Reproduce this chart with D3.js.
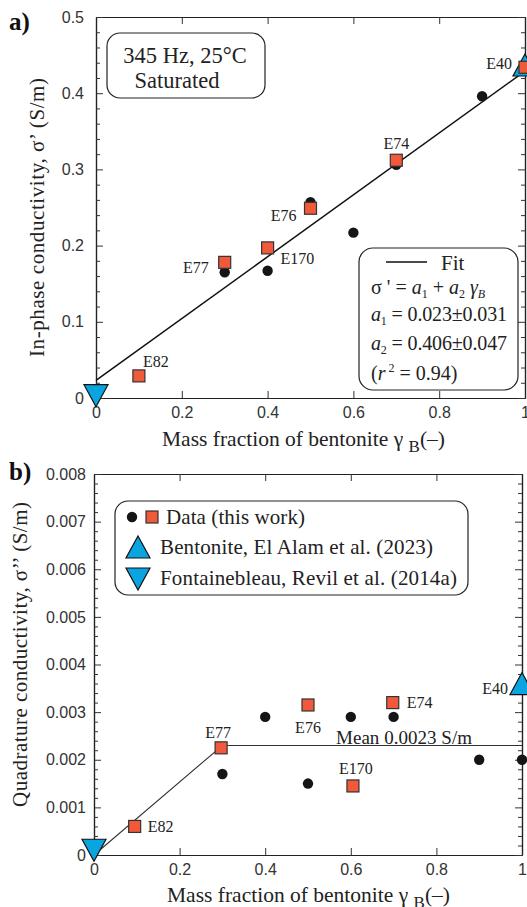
<!DOCTYPE html>
<html>
<head>
<meta charset="utf-8">
<script src="https://cdn.jsdelivr.net/npm/d3@7"></script>
<style>
  html, body { margin: 0; padding: 0; background: #fff; }
  svg { display: block; }
</style>
</head>
<body>
<div id="chart"></div>
<script>
// ---- data, panel a (in-phase) ----
const xTicks = [0, 0.2, 0.4, 0.6, 0.8, 1];
const xTickLabels = ["0", "0.2", "0.4", "0.6", "0.8", "1"];

const yTicksA = [0, 0.1, 0.2, 0.3, 0.4, 0.5];
const yTickLabelsA = ["0", "0.1", "0.2", "0.3", "0.4", "0.5"];

const circX_A = [0.3, 0.4, 0.5, 0.6, 0.7, 0.9];
const circY_A = [0.165, 0.167, 0.257, 0.217, 0.306, 0.396];

const sqNames_A = ["E82", "E77", "E170", "E76", "E74", "E40"];
const sqX_A = [0.1, 0.3, 0.4, 0.5, 0.7, 1.0];
const sqY_A = [0.029, 0.178, 0.197, 0.249, 0.312, 0.434];

const bentonite_A = [1.0, 0.437];     // El Alam et al. (2023)
const fontaine_A = [0, 0.003];        // Revil et al. (2014a)
const fitA1 = 0.023, fitA2 = 0.406;

// ---- data, panel b (quadrature) ----
const yTicksB = [0, 0.001, 0.002, 0.003, 0.004, 0.005, 0.006, 0.007, 0.008];
const yTickLabelsB = ["0", "0.001", "0.002", "0.003", "0.004", "0.005", "0.006", "0.007", "0.008"];

const circX_B = [0.3, 0.4, 0.5, 0.6, 0.7, 0.9, 1.0];
const circY_B = [0.0017, 0.0029, 0.0015, 0.0029, 0.0029, 0.002, 0.002];

const sqNames_B = ["E82", "E77", "E76", "E170", "E74"];
const sqX_B = [0.095, 0.297, 0.5, 0.605, 0.698];
const sqY_B = [0.0006, 0.00225, 0.00315, 0.00145, 0.0032];

const bentonite_B = [1.0, 0.0036];
const fontaine_B = [0, 0.0001];
const meanQ = 0.0023;
const kneeX = 0.3;

// ---- label placement (pixel offsets from the square) ----
const labelPosA = {
    E82:  {dx: 17,  dy: -15, anchor: "middle"},
    E77:  {dx: -16, dy: 5,   anchor: "end"},
    E170: {dx: 13,  dy: 11,  anchor: "start"},
    E76:  {dx: -14, dy: 7,   anchor: "end"},
    E74:  {dx: 0,   dy: -17, anchor: "middle"},
    E40:  {dx: -13, dy: -4,  anchor: "end"}
};
const labelPosB = {
    E82:  {dx: 13, dy: 0,   anchor: "start"},
    E77:  {dx: -3, dy: -15, anchor: "middle"},
    E76:  {dx: 0,  dy: 22,  anchor: "middle"},
    E170: {dx: 3,  dy: -18, anchor: "middle"},
    E74:  {dx: 14, dy: 0,   anchor: "start"}
};

const SERIF = "'Liberation Serif', 'Times New Roman', serif";
const SANS = "'Liberation Sans', Arial, Helvetica, sans-serif";
const SQ_FILL = "#F05A3B";
const TRI_FILL = "#0AA5E0";
const INK = "#222";

const W = 527, H = 907;
const svg = d3.select("#chart").append("svg").attr("width", W).attr("height", H);

function minorTicks(major) {
    let out = [];
    for (let i = 0; i < major.length - 1; i++) {
        let step = (major[i + 1] - major[i]) / 5;
        for (let k = 1; k < 5; k++) out.push(major[i] + k * step);
    }
    return out;
}

function frame(x, y, yTicks, yLabels, yPad) {
    let g = svg.append("g");
    let y0 = y.range()[0], y1 = y.range()[1];
    let x0 = x.range()[0], x1 = x.range()[1];
    let yMinor = minorTicks(yTicks);

    g.append("g").attr("transform", `translate(0,${y0})`)
        .call(d3.axisBottom(x).tickValues(xTicks).tickSize(-7).tickSizeOuter(0)
            .tickPadding(9).tickFormat((d, i) => xTickLabels[i]));
    g.append("g").attr("transform", `translate(0,${y1})`)
        .call(d3.axisTop(x).tickValues(xTicks).tickSize(-7).tickSizeOuter(0).tickFormat(""));
    g.append("g").attr("transform", `translate(${x0},0)`)
        .call(d3.axisLeft(y).tickValues(yTicks).tickSize(-7).tickSizeOuter(0)
            .tickPadding(yPad).tickFormat((d, i) => yLabels[i]));
    g.append("g").attr("transform", `translate(${x0},0)`)
        .call(d3.axisLeft(y).tickValues(yMinor).tickSize(-4).tickSizeOuter(0).tickFormat(""));
    g.append("g").attr("transform", `translate(${x1},0)`)
        .call(d3.axisRight(y).tickValues(yTicks).tickSize(-7).tickSizeOuter(0).tickFormat(""));
    g.append("g").attr("transform", `translate(${x1},0)`)
        .call(d3.axisRight(y).tickValues(yMinor).tickSize(-4).tickSizeOuter(0).tickFormat(""));

    g.selectAll(".domain").attr("stroke", "#222").attr("stroke-width", 1.2);
    g.selectAll(".tick line").attr("stroke", "#333").attr("stroke-width", 1);
    g.selectAll(".tick text").attr("font-family", SANS).attr("font-size", 16).attr("fill", "#333");
    return g;
}

function triangle(g, cx, cy, up) {
    let w = 24, h = 22;
    let pts = up
        ? [[cx, cy - h / 2], [cx + w / 2, cy + h / 2], [cx - w / 2, cy + h / 2]]
        : [[cx - w / 2, cy - h / 2], [cx + w / 2, cy - h / 2], [cx, cy + h / 2]];
    g.append("path").attr("d", d3.line()(pts) + "Z")
        .attr("fill", TRI_FILL).attr("stroke", "#111").attr("stroke-width", 1.2);
}

function circles(g, x, y, xs, ys) {
    g.selectAll(null).data(xs).enter().append("circle")
        .attr("cx", d => x(d)).attr("cy", (d, i) => y(ys[i])).attr("r", 5.2)
        .attr("fill", "#151515");
}

function squares(g, x, y, xs, ys, names, pos) {
    let s = 12;
    let sq = g.selectAll(null).data(xs).enter();
    sq.append("rect")
        .attr("x", d => x(d) - s / 2).attr("y", (d, i) => y(ys[i]) - s / 2)
        .attr("width", s).attr("height", s)
        .attr("fill", SQ_FILL).attr("stroke", "#333").attr("stroke-width", 1.2);
    sq.append("text")
        .attr("x", (d, i) => x(d) + pos[names[i]].dx)
        .attr("y", (d, i) => y(ys[i]) + pos[names[i]].dy)
        .attr("dy", "0.35em")
        .attr("text-anchor", (d, i) => pos[names[i]].anchor)
        .attr("font-family", SERIF).attr("font-size", 16).attr("fill", INK)
        .text((d, i) => names[i]);
}

function xTitle(cx, baseline) {
    let t = svg.append("text").attr("x", cx).attr("y", baseline)
        .attr("text-anchor", "middle").attr("font-family", SERIF)
        .attr("font-size", 21.5).attr("fill", INK)
        .attr("textLength", 283);
    t.append("tspan").text("Mass fraction of bentonite \u03B3 ");
    t.append("tspan").attr("font-size", 17).attr("dy", 6).text("B");
    t.append("tspan").attr("dy", -6).text("(\u2013)");
}

function yTitle(cx, cy, txt, len) {
    svg.append("text").attr("transform", `translate(${cx},${cy}) rotate(-90)`)
        .attr("text-anchor", "middle").attr("dy", "0.35em")
        .attr("font-family", SERIF).attr("font-size", 21).attr("fill", INK)
        .attr("textLength", len)
        .text(txt);
}

// ================= panel a =================
const xA = d3.scaleLinear().domain([0, 1]).range([96, 525]);
const yA = d3.scaleLinear().domain([0, 0.5]).range([398, 17]);
frame(xA, yA, yTicksA, yTickLabelsA, 12);

const gA = svg.append("g");
gA.append("line")
    .attr("x1", xA(0)).attr("y1", yA(fitA1))
    .attr("x2", xA(1)).attr("y2", yA(fitA1 + fitA2))
    .attr("stroke", "#111").attr("stroke-width", 1.5);
triangle(gA, xA(fontaine_A[0]), yA(fontaine_A[1]), false);
triangle(gA, xA(bentonite_A[0]), yA(bentonite_A[1]), true);
circles(gA, xA, yA, circX_A, circY_A);
squares(gA, xA, yA, sqX_A, sqY_A, sqNames_A, labelPosA);

// condition box
gA.append("rect").attr("x", 107).attr("y", 33).attr("width", 158).attr("height", 65)
    .attr("rx", 13).attr("fill", "none").attr("stroke", "#222").attr("stroke-width", 1.2);
gA.append("text").attr("x", 185).attr("y", 63).attr("text-anchor", "middle")
    .attr("font-family", SERIF).attr("font-size", 22.5).attr("fill", INK).text("345 Hz, 25\u00B0C");
gA.append("text").attr("x", 177).attr("y", 88).attr("text-anchor", "middle")
    .attr("font-family", SERIF).attr("font-size", 22.5).attr("fill", INK).text("Saturated");

// fit box
gA.append("rect").attr("x", 359).attr("y", 248).attr("width", 159).attr("height", 142)
    .attr("rx", 14).attr("fill", "#fff").attr("stroke", "#222").attr("stroke-width", 1.2);
gA.append("line").attr("x1", 386).attr("x2", 427).attr("y1", 262).attr("y2", 262)
    .attr("stroke", "#111").attr("stroke-width", 1.5);
gA.append("text").attr("x", 441).attr("y", 270)
    .attr("font-family", SERIF).attr("font-size", 21).attr("fill", INK).text("Fit");

function formulaLine(yb, parts, len) {
    let t = gA.append("text").attr("x", 371).attr("y", yb)
        .attr("font-family", SERIF).attr("font-size", 20).attr("fill", INK);
    if (len) t.attr("textLength", len);
    parts.forEach(p => {
        let ts = t.append("tspan").text(p.t);
        if (p.it) ts.attr("font-style", "italic");
        if (p.sub) ts.attr("font-size", 12).attr("dy", 4);
        if (p.sup) ts.attr("font-size", 12).attr("dy", -8);
        if (p.back) ts.attr("dy", p.back);
    });
}
formulaLine(294, [
    {t: "\u03C3 '"}, {t: " = "}, {t: "a", it: true}, {t: "1", sub: true},
    {t: " + ", back: -4}, {t: "a", it: true}, {t: "2", sub: true},
    {t: " \u03B3", it: true, back: -4}, {t: "B", it: true, sub: true}
]);
formulaLine(321, [{t: "a", it: true}, {t: "1", sub: true}, {t: " = 0.023\u00B10.031", back: -4}], 136);
formulaLine(350, [{t: "a", it: true}, {t: "2", sub: true}, {t: " = 0.406\u00B10.047", back: -4}], 136);
formulaLine(380, [{t: "("}, {t: "r", it: true}, {t: " 2", sup: true}, {t: " = 0.94)", back: 8}]);

xTitle(303.5, 446);
yTitle(37, 217.5, "In-phase conductivity,  \u03C3\u2019  (S/m)", 279);
svg.append("text").attr("x", 9).attr("y", 30).attr("font-family", SERIF)
    .attr("font-weight", "bold").attr("font-size", 25).attr("fill", "#111").text("a)");

// ================= panel b =================
const xB = d3.scaleLinear().domain([0, 1]).range([94, 522]);
const yB = d3.scaleLinear().domain([0, 0.008]).range([855, 474]);
frame(xB, yB, yTicksB, yTickLabelsB, 8);

const gB = svg.append("g");
gB.append("path")
    .attr("d", d3.line()([[xB(0), yB(0)], [xB(kneeX), yB(meanQ)], [xB(1), yB(meanQ)]]))
    .attr("fill", "none").attr("stroke", "#333").attr("stroke-width", 1.1);
gB.append("text").attr("x", 336).attr("y", 737).attr("dy", "0.35em")
    .attr("font-family", SERIF).attr("font-size", 19).attr("fill", INK)
    .attr("textLength", 136).text("Mean 0.0023 S/m");
triangle(gB, xB(fontaine_B[0]), yB(fontaine_B[1]), false);
triangle(gB, xB(bentonite_B[0]), yB(bentonite_B[1]), true);
gB.append("text").attr("x", xB(bentonite_B[0]) - 14).attr("y", yB(bentonite_B[1]) + 5)
    .attr("dy", "0.35em").attr("text-anchor", "end")
    .attr("font-family", SERIF).attr("font-size", 16).attr("fill", INK).text("E40");
circles(gB, xB, yB, circX_B, circY_B);
squares(gB, xB, yB, sqX_B, sqY_B, sqNames_B, labelPosB);

// legend
const lg = svg.append("g");
lg.append("rect").attr("x", 115).attr("y", 501).attr("width", 353).attr("height", 94)
    .attr("rx", 13).attr("fill", "#fff").attr("stroke", "#222").attr("stroke-width", 1.2);
lg.append("circle").attr("cx", 132).attr("cy", 517).attr("r", 5.2).attr("fill", "#151515");
lg.append("rect").attr("x", 146).attr("y", 511).attr("width", 12).attr("height", 12)
    .attr("fill", SQ_FILL).attr("stroke", "#333").attr("stroke-width", 1.2);
triangle(lg, 138, 547, true);
triangle(lg, 138, 579, false);
const legendRows = [
    {x: 166, y: 517, len: 139, t: "Data (this work)"},
    {x: 160, y: 547, len: 273, t: "Bentonite, El Alam et al. (2023)"},
    {x: 160, y: 578, len: 297, t: "Fontainebleau, Revil et al. (2014a)"}
];
lg.selectAll(null).data(legendRows).enter().append("text")
    .attr("x", d => d.x).attr("y", d => d.y).attr("dy", "0.35em")
    .attr("font-family", SERIF).attr("font-size", 21).attr("fill", INK)
    .attr("textLength", d => d.len).text(d => d.t);

xTitle(308.5, 902);
yTitle(20, 654.5, "Quadrature conductivity,  \u03C3\u2019\u2019  (S/m)", 305);
svg.append("text").attr("x", 9).attr("y", 480).attr("font-family", SERIF)
    .attr("font-weight", "bold").attr("font-size", 25).attr("fill", "#111").text("b)");
</script>
</body>
</html>
